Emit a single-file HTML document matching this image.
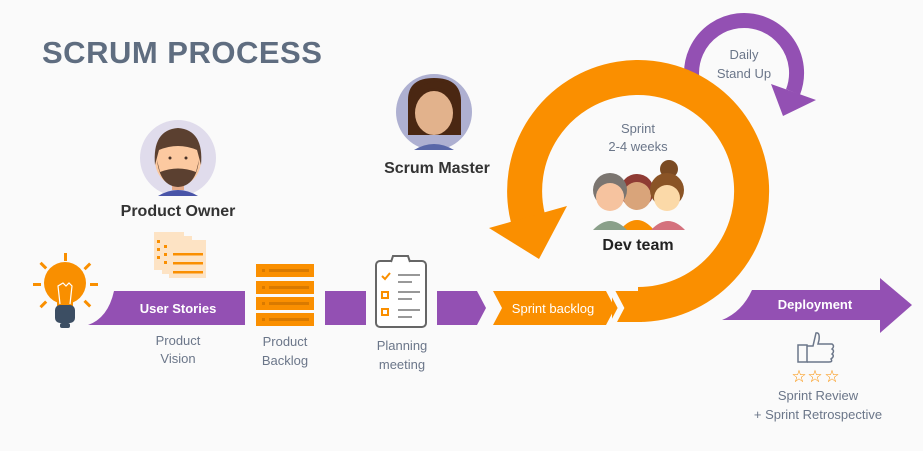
<!DOCTYPE html>
<html><head><style>
html,body{margin:0;padding:0;background:#fafafa;}
svg{display:block;font-family:"Liberation Sans",sans-serif;}
</style></head><body>
<svg width="923" height="451" viewBox="0 0 923 451" xmlns="http://www.w3.org/2000/svg">
<rect width="923" height="451" fill="#fafafa"/>
<text x="42" y="63" font-size="31" font-weight="bold" fill="#5f6d80" letter-spacing="0.5">SCRUM PROCESS</text>

<!-- purple daily ring -->
<path d="M701,103 A52.5,52.5 0 1 1 793,92" fill="none" stroke="#9350b3" stroke-width="15"/>
<polygon points="771,84 816,100 783,116" fill="#9350b3"/>
<text x="744" y="59" font-size="13" fill="#6b7689" text-anchor="middle">Daily</text>
<text x="744" y="78" font-size="13" fill="#6b7689" text-anchor="middle">Stand Up</text>

<!-- orange sprint ring -->
<path d="M638,304.5 A113.5,113.5 0 1 0 528,218.5" fill="none" stroke="#fa8f00" stroke-width="35"/>
<polygon points="489,228 567,206 539,259" fill="#fa8f00"/>
<rect x="612" y="291" width="30" height="31" fill="#fa8f00"/>
<polygon points="493,291 606,291 615,308 606,325 493,325 502,308" fill="#fa8f00"/>
<polyline points="611,289 621,308 611,327" fill="none" stroke="#fafafa" stroke-width="6"/>
<text x="553" y="313" font-size="13" fill="#fff" text-anchor="middle">Sprint backlog</text>

<text x="638" y="133" font-size="13" fill="#6b7689" text-anchor="middle">Sprint</text>
<text x="638" y="151" font-size="13" fill="#6b7689" text-anchor="middle">2-4 weeks</text>

<!-- dev team -->
<g>
<circle cx="669" cy="169" r="9" fill="#7a4a22"/>
<circle cx="637" cy="191" r="17" fill="#8f3b34"/>
<path d="M620,230 Q637,210 654,230 Z" fill="#f98f00"/>
<circle cx="637" cy="196" r="14" fill="#d9a47a"/>
<path d="M593,230 Q610,212 627,230 Z" fill="#8aa08a"/>
<circle cx="610" cy="190" r="17" fill="#7b7570"/>
<circle cx="610" cy="197" r="14" fill="#f6c39f"/>
<path d="M651,230 Q668,212 685,230 Z" fill="#d4717d"/>
<circle cx="667" cy="190" r="17" fill="#8a5426"/>
<circle cx="667" cy="198" r="13" fill="#fbd9a8"/>
</g>
<text x="638" y="250" font-size="16" font-weight="bold" fill="#222" text-anchor="middle">Dev team</text>

<!-- bulb -->
<g fill="#f98f00">
<circle cx="65" cy="283" r="21"/>
<rect x="57" y="296" width="16" height="10"/>
<rect x="64" y="253" width="3" height="8"/>
<rect x="33" y="283" width="8" height="3"/>
<rect x="90" y="283" width="8" height="3"/>
<rect x="42" y="262" width="3" height="8" transform="rotate(-45 43 266)"/>
<rect x="86" y="262" width="3" height="8" transform="rotate(45 87 266)"/>
<rect x="42" y="300" width="3" height="8" transform="rotate(45 43 304)"/>
<rect x="86" y="300" width="3" height="8" transform="rotate(-45 87 304)"/>
</g>
<path d="M60,304 L58,286 L63,283 L66,286 L69,283 L72,286 L70,304" fill="none" stroke="#fff" stroke-width="1.2"/>
<rect x="55" y="305" width="20" height="18" rx="5" fill="#3c4e63"/>
<rect x="60" y="323" width="10" height="5" rx="2" fill="#3c4e63"/>

<!-- purple bar 1 -->
<path d="M114,291 L245,291 L245,325 L88,325 Q108,318 114,291 Z" fill="#9350b3"/>
<text x="178" y="313" font-size="13" font-weight="bold" fill="#fff" text-anchor="middle">User Stories</text>
<rect x="325" y="291" width="41" height="34" fill="#9350b3"/>
<polygon points="437,291 477,291 486,308 477,325 437,325" fill="#9350b3"/>

<!-- backlog icon -->
<g fill="#fa8f00">
<rect x="256" y="264" width="58" height="13"/>
<rect x="256" y="281" width="58" height="13"/>
<rect x="256" y="297" width="58" height="13"/>
<rect x="256" y="313" width="58" height="13"/>
</g>
<g fill="#d97a00">
<rect x="262" y="269" width="3" height="3"/><rect x="269" y="269" width="40" height="3"/>
<rect x="262" y="286" width="3" height="3"/><rect x="269" y="286" width="40" height="3"/>
<rect x="262" y="302" width="3" height="3"/><rect x="269" y="302" width="40" height="3"/>
<rect x="262" y="318" width="3" height="3"/><rect x="269" y="318" width="40" height="3"/>
</g>

<!-- clipboard -->
<rect x="376" y="261" width="50" height="66" rx="4" fill="#fff" stroke="#666" stroke-width="2"/>
<path d="M391,262 L393,256 L408,256 L410,262" fill="#fff" stroke="#666" stroke-width="2"/>
<polyline points="382,276 385,279 390,273" fill="none" stroke="#fa8f00" stroke-width="2"/>
<rect x="382" y="292" width="6" height="6" fill="none" stroke="#fa8f00" stroke-width="2"/>
<rect x="382" y="309" width="6" height="6" fill="none" stroke="#fa8f00" stroke-width="2"/>
<g stroke="#777" stroke-width="1.5"><line x1="398" y1="275" x2="420" y2="275"/><line x1="398" y1="282" x2="412" y2="282"/><line x1="398" y1="292" x2="420" y2="292"/><line x1="398" y1="299" x2="412" y2="299"/><line x1="398" y1="310" x2="420" y2="310"/><line x1="398" y1="317" x2="412" y2="317"/></g>

<!-- papers -->
<rect x="154" y="232" width="30" height="38" fill="#fde3c4"/>
<rect x="162" y="236" width="30" height="38" fill="#fde3c4"/>
<rect x="169" y="240" width="37" height="38" fill="#fde3c4"/>
<g fill="#fa8f00"><rect x="157" y="240" width="3" height="3"/><rect x="157" y="248" width="3" height="3"/><rect x="157" y="256" width="3" height="3"/><rect x="164" y="245" width="3" height="3"/><rect x="164" y="253" width="3" height="3"/><rect x="164" y="261" width="3" height="3"/>
<rect x="173" y="253" width="30" height="2.5"/><rect x="173" y="262" width="30" height="2.5"/><rect x="173" y="271" width="30" height="2.5"/></g>

<!-- product owner -->
<circle cx="178" cy="158" r="38" fill="#e0dcec"/>
<path d="M158,196 Q178,184 198,196 Z" fill="#4954a8"/>
<rect x="172" y="178" width="12" height="12" fill="#e5a987"/>
<ellipse cx="178" cy="160" rx="23" ry="26" fill="#fcc9a0"/>
<path d="M155,165 Q152,130 178,128 Q204,130 201,165 L197,150 Q178,142 159,150 Z" fill="#5b4030"/>
<path d="M157,160 Q160,186 178,187 Q196,186 199,160 L196,172 Q178,165 160,172 Z" fill="#5b4030"/>
<circle cx="170" cy="158" r="1.5" fill="#4a3328"/><circle cx="186" cy="158" r="1.5" fill="#4a3328"/>
<text x="178" y="216" font-size="16" font-weight="bold" fill="#333" text-anchor="middle">Product Owner</text>

<!-- scrum master -->
<circle cx="434" cy="112" r="38" fill="#aeb0d1"/>
<path d="M414,150 Q434,138 454,150 Z" fill="#5967a8"/>
<path d="M408,135 L408,100 Q408,78 434,78 Q460,78 461,100 L461,135 Z" fill="#4a2712"/>
<ellipse cx="434" cy="113" rx="19" ry="22" fill="#e2b28c"/>
<path d="M414,108 Q420,86 440,88 Q455,92 456,112 L458,96 Q450,80 434,82 Q416,84 414,100 Z" fill="#4a2712"/>
<text x="437" y="173" font-size="16" font-weight="bold" fill="#333" text-anchor="middle">Scrum Master</text>

<!-- gray labels -->
<g font-size="13" fill="#6b7689" text-anchor="middle">
<text x="178" y="345">Product</text><text x="178" y="363">Vision</text>
<text x="285" y="346">Product</text><text x="285" y="365">Backlog</text>
<text x="402" y="350">Planning</text><text x="402" y="369">meeting</text>
<text x="818" y="400">Sprint Review</text><text x="818" y="419">+ Sprint Retrospective</text>
</g>

<!-- deployment -->
<path d="M752,290 L880,290 L880,278 L912,305 L880,333 L880,320 L722,320 Q742,312 752,290 Z" fill="#9350b3"/>
<text x="815" y="309" font-size="13" font-weight="bold" fill="#fff" text-anchor="middle">Deployment</text>

<!-- thumbs up -->
<g fill="none" stroke="#6b7689" stroke-width="1.5">
<rect x="798" y="345" width="9" height="17"/>
<path d="M807,346 L813,346 L816,333 Q820,332 819,340 L818,344 L832,344 Q835,346 832,349 Q835,351 832,354 Q835,356 831,359 Q833,362 829,362 L807,362"/>
</g>
<g font-size="17" fill="#fa8f00" text-anchor="middle"><text x="799" y="382">☆</text><text x="815" y="382">☆</text><text x="832" y="382">☆</text></g>
</svg>
</body></html>
